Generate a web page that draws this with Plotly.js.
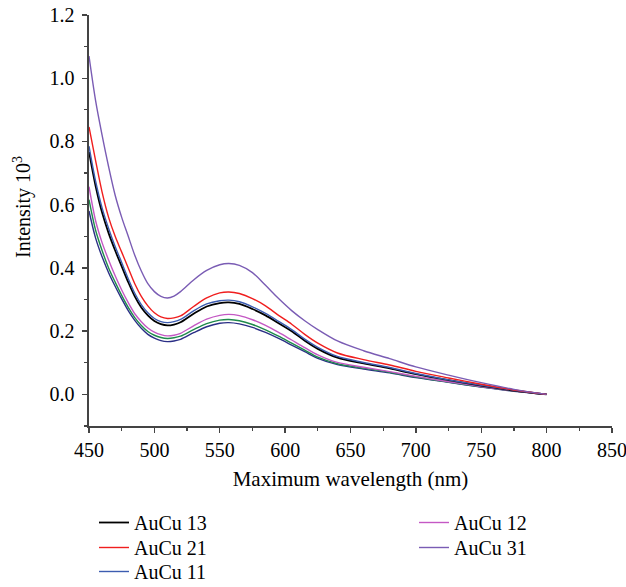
<!DOCTYPE html>
<html>
<head>
<meta charset="utf-8">
<script src="https://cdn.plot.ly/plotly-3.0.1.min.js"></script>
<style>html,body{margin:0;padding:0;background:#fff;}#chart{width:626px;height:587px;}</style>
</head>
<body>
<div id="chart"></div>
<script>
const wavelength = [450,455,460,465,470,475,480,485,490,495,500,505,510,515,520,530,540,550,557,565,575,585,595,605,615,625,640,660,680,700,725,750,775,800];

const auCu13 = [0.767,0.66,0.575,0.51,0.455,0.405,0.355,0.31,0.275,0.25,0.232,0.222,0.218,0.221,0.228,0.255,0.278,0.289,0.291,0.286,0.27,0.25,0.225,0.20,0.17,0.144,0.116,0.098,0.082,0.064,0.045,0.028,0.012,0.0];
const auCu21 = [0.846,0.74,0.64,0.56,0.50,0.45,0.40,0.35,0.31,0.28,0.258,0.245,0.240,0.242,0.248,0.278,0.305,0.321,0.324,0.319,0.303,0.28,0.25,0.222,0.19,0.162,0.131,0.11,0.093,0.073,0.052,0.032,0.014,0.0];
const auCu11 = [0.785,0.675,0.59,0.525,0.468,0.417,0.366,0.32,0.284,0.258,0.24,0.23,0.227,0.23,0.237,0.264,0.286,0.296,0.298,0.293,0.277,0.256,0.231,0.205,0.175,0.149,0.12,0.101,0.085,0.066,0.046,0.029,0.013,0.0];
const auCu12 = [0.657,0.55,0.48,0.425,0.375,0.33,0.29,0.255,0.23,0.21,0.197,0.189,0.185,0.187,0.193,0.217,0.238,0.25,0.253,0.249,0.236,0.218,0.196,0.172,0.148,0.125,0.101,0.086,0.072,0.057,0.04,0.025,0.011,0.0];
const auCu31 = [1.07,0.93,0.82,0.72,0.63,0.56,0.50,0.44,0.39,0.35,0.325,0.310,0.305,0.311,0.325,0.362,0.392,0.410,0.414,0.408,0.385,0.345,0.303,0.265,0.233,0.205,0.169,0.138,0.113,0.087,0.061,0.037,0.016,0.0];
const unlabeledGreen = [0.616,0.52,0.455,0.40,0.355,0.313,0.275,0.243,0.218,0.199,0.187,0.18,0.177,0.179,0.184,0.205,0.224,0.235,0.237,0.233,0.221,0.204,0.184,0.162,0.14,0.118,0.097,0.083,0.07,0.055,0.039,0.024,0.011,0.0];
const unlabeledNavy = [0.58,0.495,0.435,0.385,0.342,0.302,0.265,0.234,0.209,0.19,0.178,0.17,0.167,0.169,0.174,0.195,0.214,0.225,0.227,0.223,0.212,0.196,0.177,0.156,0.135,0.114,0.094,0.08,0.068,0.053,0.038,0.023,0.01,0.0];

const xTicks = [450,500,550,600,650,700,750,800,850];
const yTicks = [0.0,0.2,0.4,0.6,0.8,1.0,1.2];

const FONT = "Liberation Serif, Times New Roman, serif";

function tr(name, y, color, legend, show, width) {
  return {
    x: wavelength, y: y, name: name, type: 'scatter', mode: 'lines',
    line: {color: color, width: width || 1.4, shape: 'spline', smoothing: 0.9},
    legend: legend, showlegend: show
  };
}

const data = [
  tr('', unlabeledNavy, '#2b2f86', 'legend', false),
  tr('', unlabeledGreen, '#1f8a4c', 'legend', false),
  tr('AuCu 12', auCu12, '#c458c4', 'legend4', true),
  tr('AuCu 13', auCu13, '#000000', 'legend', true, 1.8),
  tr('AuCu 11', auCu11, '#3c5cb0', 'legend3', true),
  tr('AuCu 21', auCu21, '#f01e1e', 'legend2', true),
  tr('AuCu 31', auCu31, '#7a5cb4', 'legend5', true)
];

function leg(xpx, toppx) {
  return {
    orientation: 'v',
    font: {family: FONT, size: 20, color: '#000'},
    bgcolor: 'rgba(0,0,0,0)', borderwidth: 0,
    xref: 'container', yref: 'container',
    x: xpx / 626, y: 1 - toppx / 587,
    xanchor: 'left', yanchor: 'top', itemclick: false
  };
}

const layout = {
  width: 626, height: 587,
  margin: {l: 89, r: 14, t: 15, b: 161, autoexpand: false},
  paper_bgcolor: '#fff', plot_bgcolor: '#fff',
  font: {family: FONT, size: 20, color: '#000'},
  showlegend: true,
  legend: leg(94, 503),
  legend2: leg(94, 528),
  legend3: leg(94, 552),
  legend4: leg(414, 503),
  legend5: leg(414, 528),
  xaxis: {
    range: [449.99, 850.01], tickvals: xTicks, ticktext: xTicks.map(String),
    showgrid: false, zeroline: false, showline: true, linecolor: '#444', linewidth: 1.6,
    ticks: 'outside', ticklen: 5, tickwidth: 1.4, tickcolor: '#444',
    minor: {dtick: 25, tick0: 450, ticks: 'outside', ticklen: 3, tickwidth: 1.2, tickcolor: '#444', showgrid: false},
    tickfont: {family: FONT, size: 20, color: '#000'},
    title: {text: 'Maximum wavelength (nm)', font: {family: FONT, size: 21, color: '#000'}, standoff: 12},
    ticklabelstandoff: 0, ticklabeloverflow: 'allow', automargin: false
  },
  yaxis: {
    range: [-0.1, 1.2], tickvals: yTicks, ticktext: yTicks.map(v => v.toFixed(1)),
    showgrid: false, zeroline: false, showline: true, linecolor: '#444', linewidth: 1.6,
    ticks: 'outside', ticklen: 5, tickwidth: 1.4, tickcolor: '#444',
    minor: {dtick: 0.1, tick0: 0, ticks: 'outside', ticklen: 3, tickwidth: 1.2, tickcolor: '#444', showgrid: false},
    tickfont: {family: FONT, size: 20, color: '#000'},
    ticklabelstandoff: 4, automargin: false
  },
  annotations: [{
    text: 'Intensity 10<sup>3</sup>', xref: 'paper', yref: 'paper',
    x: (22 - 89) / 523, y: (426 - 207) / 411, textangle: -90, showarrow: false,
    xanchor: 'center', yanchor: 'middle',
    font: {family: FONT, size: 20, color: '#000'}
  }]
};

Plotly.newPlot('chart', data, layout, {displayModeBar: false, staticPlot: true});
</script>
</body>
</html>
